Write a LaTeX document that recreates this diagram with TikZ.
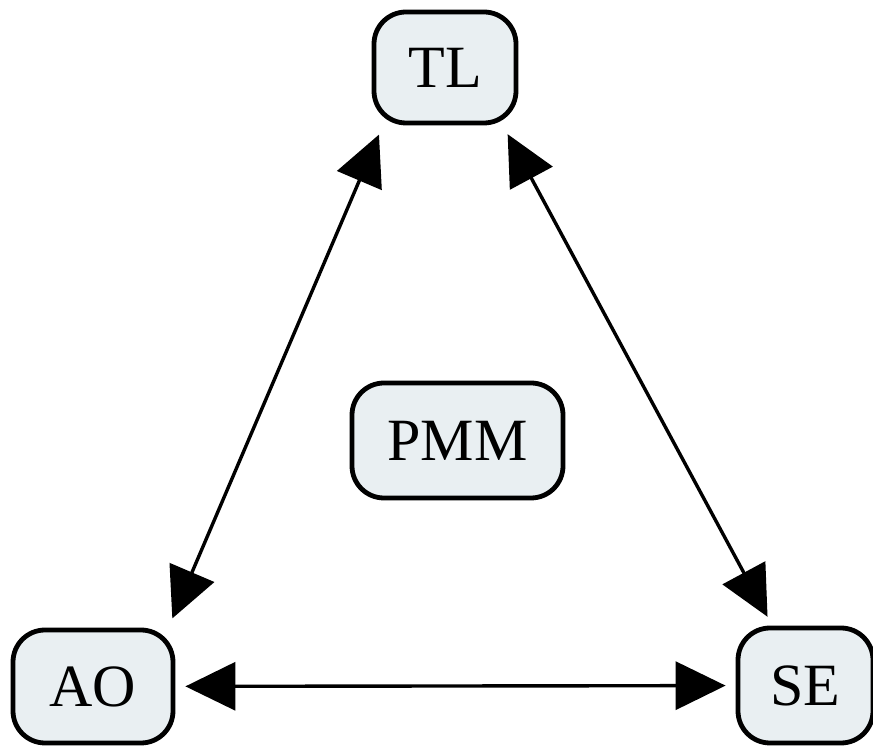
\documentclass[tikz,border=0pt]{standalone}
\usepackage{fontspec}
\setmainfont{Liberation Serif}
\usetikzlibrary{arrows.meta}
\definecolor{boxfill}{HTML}{E9EFF2}
\newcommand{\boxfont}{\fontsize{30}{34}\selectfont}

\begin{document}
\begin{tikzpicture}[x=0.5pt,y=-0.5pt,
  role/.style={draw,line width=2.4pt,fill=boxfill,rounded corners=16pt,font=\boxfont,inner sep=0pt},
  link/.style={{Triangle[length=25pt,width=24pt]}-{Triangle[length=25pt,width=24pt]},line width=1.7pt,shorten <=5pt,shorten >=5pt}]
\useasboundingbox (0,0) rectangle (873,747);
% the four roles
\node[role,minimum width=71pt,minimum height=55.5pt] (TL) at (445,67.5) {TL};
\node[role,minimum width=105.5pt,minimum height=57.5pt] (PMM) at (457.5,440.5) {PMM};
\node[role,minimum width=80pt,minimum height=56.5pt] (AO) at (93,686.5) {AO};
\node[role,minimum width=67.5pt,minimum height=57.5pt] (SE) at (805.5,685.5) {SE};
% links between them
\draw[link] (TL.223.7) -- (AO.38.5);
\draw[link] (TL.315.8) -- (SE.119.6);
\draw[link] (AO) -- (SE);
\end{tikzpicture}
\end{document}
